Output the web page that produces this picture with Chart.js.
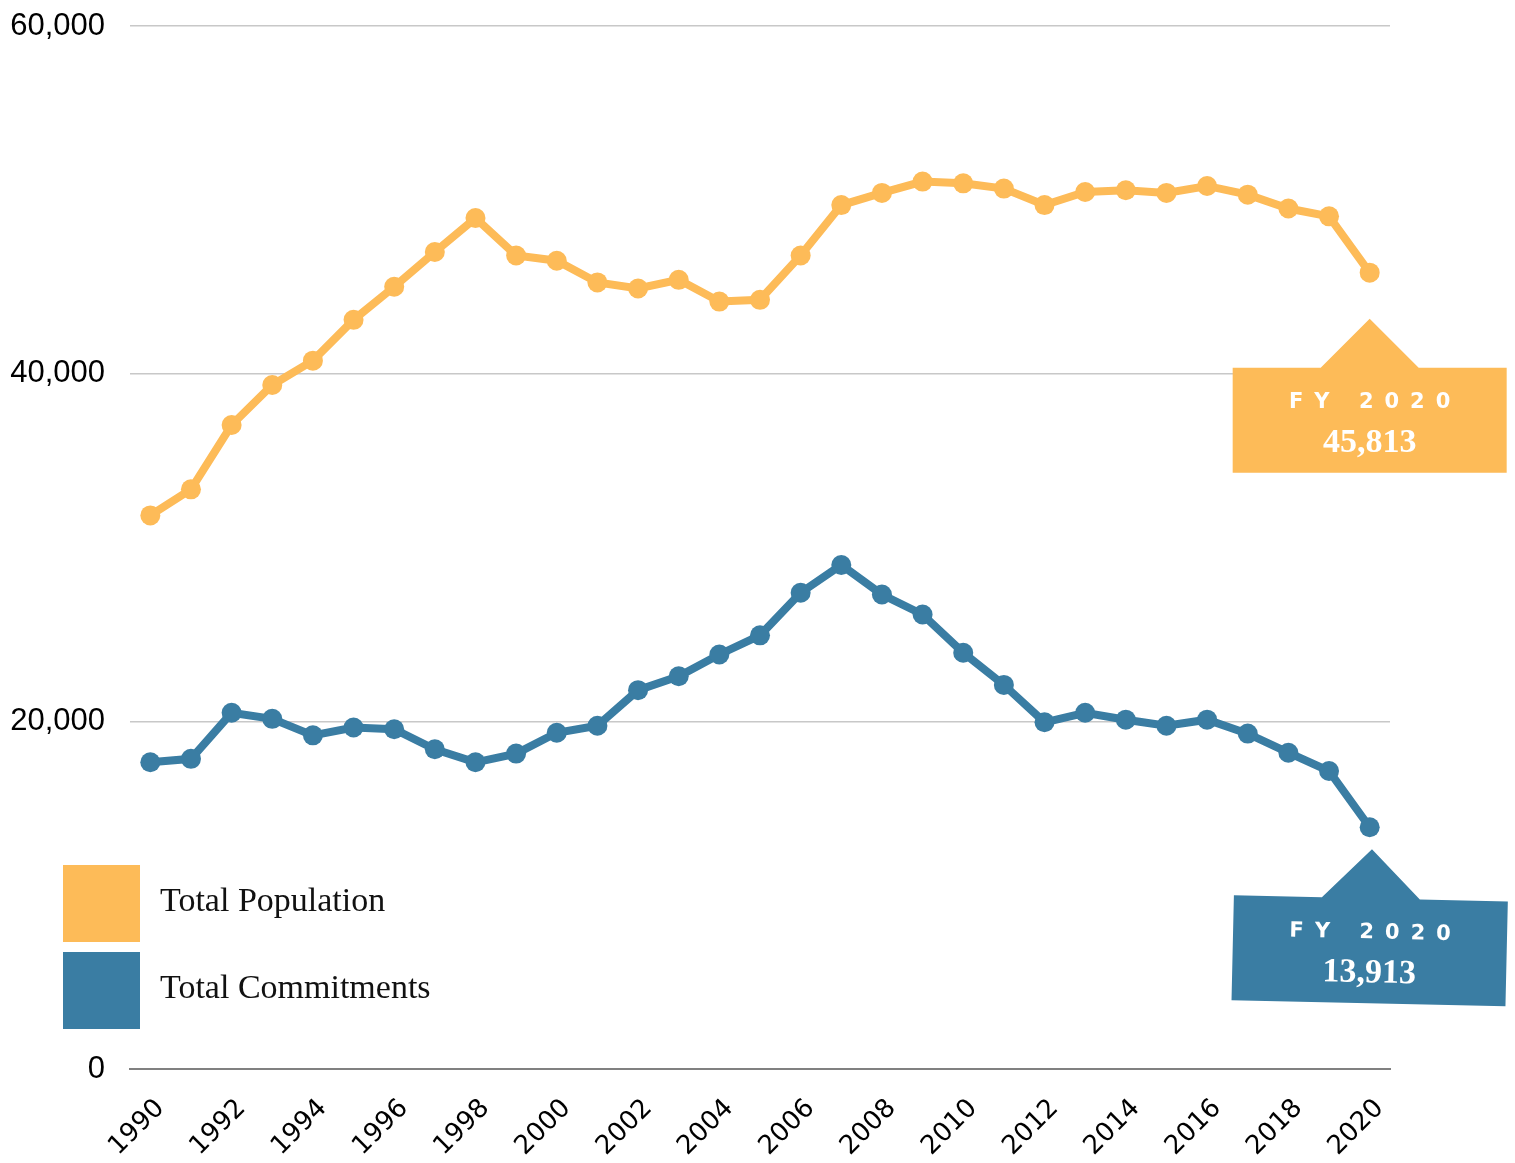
<!DOCTYPE html>
<html>
<head>
<meta charset="utf-8">
<script src="https://cdn.jsdelivr.net/npm/chart.js@4.4.1/dist/chart.umd.min.js"></script>
<style>
  html, body { margin: 0; padding: 0; background: #fff; }
  #wrap { width: 1515px; height: 1163px; position: relative; }
</style>
</head>
<body>
<div id="wrap"><canvas id="chart"></canvas></div>
<script>

// data
const years = [1990, 1991, 1992, 1993, 1994, 1995, 1996, 1997, 1998, 1999,
               2000, 2001, 2002, 2003, 2004, 2005, 2006, 2007, 2008, 2009,
               2010, 2011, 2012, 2013, 2014, 2015, 2016, 2017, 2018, 2019, 2020];

const totalPopulation = [31850, 33350, 37050, 39350, 40750, 43100, 45000, 47000, 48950, 46800,
                         46500, 45250, 44900, 45400, 44150, 44250, 46800, 49700, 50400, 51050,
                         50950, 50650, 49700, 50450, 50550, 50400, 50800, 50300, 49500, 49050, 45813];

const totalCommitments = [17650, 17850, 20500, 20150, 19200, 19650, 19550, 18400, 17650, 18150,
                          19350, 19750, 21800, 22600, 23850, 24950, 27400, 29000, 27300, 26150,
                          23950, 22100, 19950, 20500, 20100, 19750, 20100, 19300, 18200, 17150, 13913];

const yTicks = [0, 20000, 40000, 60000];

const seriesNames = ['Total Population', 'Total Commitments'];
const calloutLabel = 'FY 2020';

const orange = '#FDBB58';
const blue = '#3A7DA3';


// legend + the two FY 2020 boxes
const extrasPlugin = {
    id: 'extras',
    afterDraw(chart) {
        const ctx = chart.ctx;
        const xs = chart.scales.x;
        const ys = chart.scales.y;
        const last = years.length - 1;

        // legend in the lower left
        const swatches = [orange, blue];
        ctx.save();
        swatches.forEach((col, i) => {
            const top = 865 + i * 87;
            ctx.fillStyle = col;
            ctx.fillRect(63, top, 77, 77);
            ctx.fillStyle = '#111';
            ctx.font = '34px "Liberation Serif"';
            ctx.textBaseline = 'alphabetic';
            ctx.textAlign = 'left';
            ctx.fillText(seriesNames[i], 160, top + 46);
        });
        ctx.restore();

        drawCallout(ctx, xs.getPixelForValue(last), ys.getPixelForValue(totalPopulation[last]) + 46,
            orange, totalPopulation[last], 0);
        drawCallout(ctx, xs.getPixelForValue(last), ys.getPixelForValue(totalCommitments[last]) + 22,
            blue, totalCommitments[last], 1.3 * Math.PI / 180);
    }
};

function drawCallout(ctx, tipX, tipY, col, value, angle) {
    const boxTop = tipY + 49;
    const boxH = 105;
    const left = tipX - 137;
    const right = tipX + 137;

    ctx.save();
    ctx.translate(tipX, boxTop + boxH / 2);
    ctx.rotate(angle);
    ctx.translate(-tipX, -(boxTop + boxH / 2));

    ctx.fillStyle = col;
    ctx.beginPath();
    ctx.moveTo(left, boxTop);
    ctx.lineTo(tipX - 49, boxTop);
    ctx.lineTo(tipX, tipY);
    ctx.lineTo(tipX + 49, boxTop);
    ctx.lineTo(right, boxTop);
    ctx.lineTo(right, boxTop + boxH);
    ctx.lineTo(left, boxTop + boxH);
    ctx.closePath();
    ctx.fill();

    // spaced out "FY 2020"
    ctx.fillStyle = '#fff';
    ctx.font = 'bold 21px "DejaVu Sans"';
    ctx.textBaseline = 'alphabetic';
    ctx.textAlign = 'left';
    const spacing = 11;
    const chars = calloutLabel.split('');
    let total = 0;
    chars.forEach((c) => { total += ctx.measureText(c).width + spacing; });
    total -= spacing;
    let cx = tipX - total / 2;
    chars.forEach((c) => {
        ctx.fillText(c, cx, boxTop + 40);
        cx += ctx.measureText(c).width + spacing;
    });

    ctx.font = 'bold 34px "Liberation Serif"';
    ctx.textAlign = 'center';
    ctx.fillText(value.toLocaleString('en-US'), tipX, boxTop + 84);
    ctx.restore();
}


const ctx = document.getElementById('chart').getContext('2d');

new Chart(ctx, {
    type: 'line',
    data: {
        labels: years,
        datasets: [
            {
                label: seriesNames[0],
                data: totalPopulation,
                borderColor: orange,
                backgroundColor: orange,
                borderWidth: 8,
                pointRadius: 10,
                pointBorderWidth: 0,
                pointBackgroundColor: orange,
                tension: 0
            },
            {
                label: seriesNames[1],
                data: totalCommitments,
                borderColor: blue,
                backgroundColor: blue,
                borderWidth: 8,
                pointRadius: 10,
                pointBorderWidth: 0,
                pointBackgroundColor: blue,
                tension: 0
            }
        ]
    },
    options: {
        responsive: true,
        maintainAspectRatio: false,
        animation: false,
        layout: {
            padding: { left: 10, right: 125, top: 26, bottom: -23 }
        },
        plugins: {
            legend: { display: false },
            tooltip: { enabled: false }
        },
        scales: {
            x: {
                offset: true,
                afterFit: (s) => { s.paddingLeft = 0; s.paddingRight = 0; },
                grid: { display: false, drawTicks: false },
                border: { display: true, color: '#808080', width: 2 },
                ticks: {
                    autoSkip: false,
                    maxRotation: 45,
                    minRotation: 45,
                    padding: 24,
                    labelOffset: 10,
                    color: '#000',
                    font: { family: 'DejaVu Sans', size: 26 },
                    callback: function (value, index) {
                        return index % 2 === 0 ? years[index] : '';
                    }
                }
            },
            y: {
                min: 0,
                max: 60000,
                afterBuildTicks: (axis) => {
                    axis.ticks = yTicks.map((v) => ({ value: v }));
                },
                afterFit: (s) => { s.width = 120; s.paddingTop = 0; s.paddingBottom = 0; },
                grid: {
                    color: (c) => c.tick && c.tick.value === 0 ? 'rgba(0,0,0,0)' : '#c8c8c8',
                    lineWidth: 1.5,
                    drawTicks: false
                },
                border: { display: false },
                ticks: {
                    padding: 25,
                    color: '#000',
                    font: { family: 'Liberation Sans', size: 31 },
                    callback: (v) => v.toLocaleString('en-US')
                }
            }
        }
    },
    plugins: [extrasPlugin]
});

</script>
</body>
</html>
